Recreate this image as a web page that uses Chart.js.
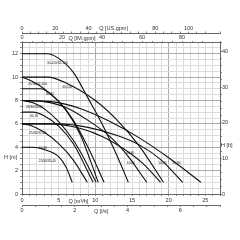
<!DOCTYPE html>
<html>
<head>
<meta charset="utf-8">
<script src="https://cdn.jsdelivr.net/npm/chart.js@4.4.1/dist/chart.umd.min.js"></script>
<style>
  html, body { margin: 0; padding: 0; background: #fff; }
  canvas { display: block; }
</style>
</head>
<body>
<canvas id="pumpChart" width="240" height="240"></canvas>
<script>
// --- data: Q [m3/h], H [m] ---
const s30_120 = [[0, 12], [3.5, 12], [5, 11.6], [7, 10.4], [9, 8.2], [11, 5.9], [13, 3.2], [14.5, 1]];
const s40_100 = [[0, 10], [3.5, 10], [6, 9.5], [10, 8.0], [13, 6.3], [16, 4.1], [19.3, 1]];
const s40_80 = [[0, 8], [3, 7.9], [6, 7.4], [9, 6.3], [12, 4.9], [14.5, 3.2], [17, 1]];
const s50_80 = [[0, 8], [4, 7.9], [8, 7.3], [12, 6.2], [16, 4.8], [20, 3.1], [24.4, 1]];
const s40_60 = [[0, 6], [4, 6], [8, 5.6], [11, 4.9], [14, 3.8], [16.5, 2.6], [18.9, 1]];
const s50_60 = [[0, 6], [5, 6], [9, 5.7], [13, 5.0], [16, 4.2], [19, 2.9], [21.9, 1]];
const s25_100 = [[0, 10], [1.5, 9.6], [3, 9.0], [5, 7.9], [7, 6.3], [9, 4.0], [11.2, 1]];
const s30_80 = [[0, 9], [2.5, 9], [4, 8.5], [6, 7.2], [8, 5.0], [10.4, 1]];
const s25_80 = [[0, 8], [1.5, 7.8], [3, 7.3], [5, 6.2], [7, 4.6], [8.5, 3.0], [10.1, 1]];
const s40_70 = [[0, 7], [1.5, 7], [3, 6.7], [5, 5.8], [7, 4.3], [9.7, 1]];
const s25_60 = [[0, 6], [1, 5.9], [3, 5.3], [5, 4.3], [7, 2.9], [8.9, 1]];
const s25_40 = [[0, 4], [1.5, 4], [3, 3.8], [5, 3.2], [6, 2.3], [6.85, 1]];

const allSeries = [s30_120, s40_100, s40_80, s50_80, s40_60, s50_60,
                   s25_100, s30_80, s25_80, s40_70, s25_60, s25_40];

// curve labels and where they sit (Q, H)
const curveLabels = ['30-120/32-120', '40-100', '25/30/32-100', '30-80', '25/30/32-80', '40-70',
                     '25/30/32-60', '40-40', '25/30/32-40', '40-60', '40-80', '50-60', '50-80'];
const curveLabelAt = [[3.4, 11.2], [5.5, 9.1], [0.85, 9.4], [3.25, 8.5], [0.55, 7.4], [1.1, 6.7],
                      [1.0, 5.2], [2.3, 3.9], [2.3, 2.85], [14.2, 3.5], [14.3, 2.6], [18.6, 2.6], [20.5, 2.6]];

// tick labels
const qLabels = [0, 5, 10, 15, 20, 25];       // m3/h
const lsLabels = [0, 2, 4, 6];                // l/s
const usLabels = [0, 20, 40, 80, 100];        // US gpm
const imLabels = [0, 20, 40, 60, 80];         // IM gpm
const hmLabels = [0, 2, 4, 6, 8, 10, 12];     // m
const hftLabels = [0, 10, 20, 30, 40];        // ft

const Q_MAX = 27;
const H_MAX = 13;
const TO_US = 4.40287, TO_IM = 3.66615, TO_LS = 1 / 3.6, TO_FT = 3.28084;

Chart.defaults.font.family = '"Liberation Sans", Arial, sans-serif';
Chart.defaults.font.size = 5.5;
Chart.defaults.color = '#333';

const gridMinor = '#dcdcdc';
const gridMajor = '#ababab';

function pick(list) {
    return v => list.includes(Math.round(v * 100) / 100) ? String(v) : '';
}

// draws the axis titles and the little curve names
const annotate = {
    id: 'annotate',
    afterDatasetsDraw(chart) {
        const { ctx, scales } = chart;
        ctx.save();
        ctx.fillStyle = '#333';
        ctx.textBaseline = 'middle';
        ctx.font = '5.5px "Liberation Sans", Arial, sans-serif';
        ctx.textAlign = 'center';
        ctx.fillText('Q [US.gpm]', scales.xUS.getPixelForValue(55), scales.xUS.bottom - 4.5);
        ctx.fillText('Q [IM.gpm]', scales.xIM.getPixelForValue(30), scales.xIM.bottom - 4);
        ctx.fillText('Q [m\u00B3/h]', scales.x.getPixelForValue(7.7), scales.x.top + 7);
        ctx.fillText('Q [l/s]', scales.xLS.getPixelForValue(3.0), scales.xLS.top + 6);
        ctx.textAlign = 'left';
        ctx.fillText('H [m]', 4, scales.y.getPixelForValue(3.15));
        ctx.fillText('H [ft]', scales.yFt.left + 1, scales.yFt.getPixelForValue(13.7));

        ctx.font = '3.2px "Liberation Sans", Arial, sans-serif';
        ctx.fillStyle = '#111';
        curveLabels.forEach((txt, i) => {
            const [q, h] = curveLabelAt[i];
            ctx.fillText(txt, scales.x.getPixelForValue(q), scales.y.getPixelForValue(h));
        });
        ctx.restore();
    }
};

const datasets = allSeries.map(s => ({
    data: s.map(p => ({ x: p[0], y: p[1] })),
    borderColor: '#111',
    borderWidth: 1.1,
    pointRadius: 0,
    fill: false,
    cubicInterpolationMode: 'monotone',
    xAxisID: 'x',
    yAxisID: 'y'
}));

new Chart(document.getElementById('pumpChart'), {
    type: 'line',
    data: { datasets },
    options: {
        responsive: false,
        animation: false,
        devicePixelRatio: 1,
        layout: { padding: { top: 24, bottom: 23, left: 0, right: 0 } },
        plugins: { legend: { display: false }, tooltip: { enabled: false } },
        scales: {
            x: {
                type: 'linear', position: 'bottom', weight: 0,
                min: 0, max: Q_MAX,
                afterFit: s => { s.height = 11; },
                border: { color: '#666' },
                grid: {
                    color: c => (c.tick && c.tick.value % 10 === 0) ? gridMajor : gridMinor,
                    tickLength: 2, tickColor: '#888'
                },
                ticks: { stepSize: 1, autoSkip: false, maxRotation: 0, padding: 1, callback: pick(qLabels) }
            },
            xLS: {
                type: 'linear', position: 'bottom', weight: 1,
                min: 0, max: Q_MAX * TO_LS,
                afterFit: s => { s.height = 12; },
                border: { color: '#666' },
                grid: { drawOnChartArea: false, tickLength: 2, tickColor: '#888' },
                ticks: { stepSize: 0.5, autoSkip: false, maxRotation: 0, padding: 0, callback: pick(lsLabels) }
            },
            xIM: {
                type: 'linear', position: 'top', weight: 0,
                min: 0, max: Q_MAX * TO_IM,
                afterFit: s => { s.height = 9; },
                border: { color: '#666' },
                grid: { drawOnChartArea: false, tickLength: 1, tickColor: '#888' },
                ticks: { stepSize: 5, autoSkip: false, maxRotation: 0, padding: 0, callback: pick(imLabels) }
            },
            xUS: {
                type: 'linear', position: 'top', weight: 1,
                min: 0, max: Q_MAX * TO_US,
                afterFit: s => { s.height = 9; },
                border: { color: '#666' },
                grid: { drawOnChartArea: false, tickLength: 1.5, tickColor: '#888' },
                ticks: { stepSize: 5, autoSkip: false, maxRotation: 0, padding: 0, callback: pick(usLabels) }
            },
            y: {
                type: 'linear', position: 'left',
                min: 0, max: H_MAX,
                afterFit: s => { s.width = 22; },
                border: { color: '#666' },
                grid: {
                    color: c => (c.tick && c.tick.value % 2 === 0) ? gridMajor : gridMinor,
                    tickLength: 2, tickColor: '#888'
                },
                ticks: { stepSize: 0.5, autoSkip: false, padding: 2, callback: pick(hmLabels) }
            },
            yFt: {
                type: 'linear', position: 'right',
                min: 0, max: H_MAX * TO_FT,
                afterFit: s => { s.width = 20; },
                border: { color: '#666' },
                grid: { drawOnChartArea: false, tickLength: 2, tickColor: '#888' },
                ticks: { stepSize: 2, autoSkip: false, padding: 0, callback: pick(hftLabels) }
            }
        }
    },
    plugins: [annotate]
});
</script>
</body>
</html>
